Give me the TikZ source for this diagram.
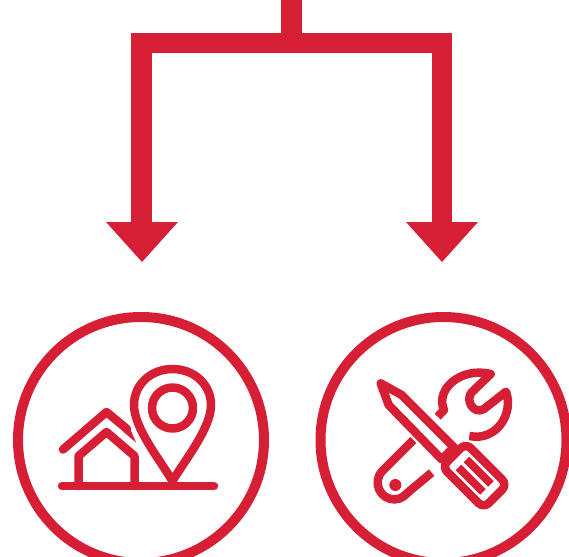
\documentclass[tikz,border=0pt]{standalone}
\definecolor{brandred}{RGB}{214,30,52}
\tikzset{
  wire/.style={draw=brandred,line width=20.5pt,line cap=butt,line join=miter},
  headtip/.style={fill=brandred,draw=none},
  ring/.style={draw=brandred,line width=10pt,fill=white},
  icon/.style={draw=brandred,line width=8.5pt,line cap=round,line join=round},
  thin icon/.style={draw=brandred,line width=8.5pt,line cap=round,line join=round}
}
\begin{document}
\begin{tikzpicture}[x=1pt,y=-1pt]
\useasboundingbox (0,0) rectangle (569,556);
\clip (0,0) rectangle (569,556);
\coordinate (stemtop) at (291.5,0);
\coordinate (stemjoin) at (291.5,43);
\coordinate (lc) at (141.5,43);
\coordinate (rc) at (442,43);
\coordinate (lb) at (141.5,226);
\coordinate (rb) at (442,226);
\draw[wire] (stemtop) -- (stemjoin);
\draw[wire] (lb) -- (lc) -- (rc) -- (rb);
\fill[headtip] (106,222) -- (178,222) -- (142,262) -- cycle;
\fill[headtip] (406,222) -- (478,222) -- (442,262) -- cycle;
\node[ring,circle,minimum size=246pt,inner sep=0pt] (leftring) at (141,440) {};
\node[ring,circle,minimum size=246pt,inner sep=0pt] (rightring) at (443.5,440) {};
% house icon
\draw[icon] (62,486) -- (214,486);
\draw[icon] (78.5,486) -- (78.5,456) -- (106.5,432) -- (134.5,456) -- (134.5,486);
\draw[icon] (63,449.5) -- (106.5,412) -- (127,429);
\fill[brandred] (124,425) -- (129,426) -- (136,442.5) -- (123.5,432) -- cycle;
\draw[icon] (172.5,481) .. controls (160,460) and (134,428) .. (134,405)
  .. controls (134,384) and (151.5,369) .. (172.5,369)
  .. controls (193.5,369) and (211,384) .. (211,405)
  .. controls (211,428) and (185,460) .. (172.5,481);
\draw[icon] (172.5,408) circle (20.5);
% tools icon
\begin{scope}[shift={(360,360)},x=0.3333pt,y=-0.3333pt]
\draw[icon] (62,70) -- (125,105) -- (282,262) -- (245,298) -- (86,135) -- cycle;
\begin{scope}[shift={(344,347)},rotate=-45]
\draw[icon,rounded corners=7pt] (-88,-50) rectangle (88,50);
\fill[brandred] (-52,-29) rectangle (52,-5);
\fill[brandred] (-52,29) rectangle (52,5);
\end{scope}
\draw[thin icon,line cap=butt] (160,240) -- (68,332) .. controls (35,365) and (60,420) .. (105,418)
  .. controls (125,418) and (135,405) .. (150,392) -- (215,338);
\fill[brandred] (106,375) circle (18);
\draw[thin icon,line cap=butt] (233,170) -- (252,150) .. controls (225,90) and (300,20) .. (392,42)
  -- (335,97) .. controls (315,120) and (340,165) .. (372,147)
  -- (438,95) .. controls (462,160) and (410,245) .. (328,228);
\end{scope}
\end{tikzpicture}
\end{document}
